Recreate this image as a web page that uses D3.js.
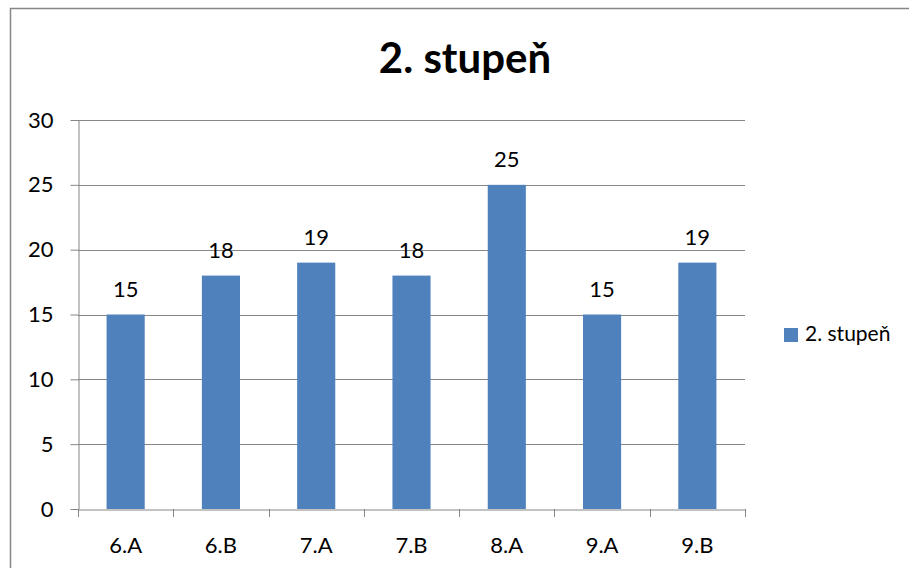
<!DOCTYPE html>
<html><head><meta charset="utf-8">
<script src="https://cdn.jsdelivr.net/npm/d3@7"></script>
<style>body{margin:0;background:#fff;} svg{display:block;font-family:Lato, "Open Sans", sans-serif;}</style>
</head><body>
<svg id="c" width="909" height="568"></svg>
<script>
const title = "2. stupeň";
const seriesName = "2. stupeň";
const categories = ["6.A","6.B","7.A","7.B","8.A","9.A","9.B"];
const values = [15,18,19,18,25,15,19];
const yTicks = [0,5,10,15,20,25,30];

const svg = d3.select("#c");
const pLeft = 78, pRight = 745, pTop = 120, pBottom = 509;
const x = d3.scaleBand().domain(categories).range([pLeft, pRight]).paddingInner(0.6).paddingOuter(0.3);
const xb = d3.scaleBand().domain(categories).range([pLeft, pRight]);
const y = d3.scaleLinear().domain([0, 30]).range([pBottom, pTop]);
const grey = "#868686";

// chart border
svg.append("rect").attr("x", 10.5).attr("y", 8.5).attr("width", 1000).attr("height", 1000)
  .attr("fill", "none").attr("stroke", grey).attr("stroke-width", 1.5);

// title
svg.append("text").attr("x", 465).attr("y", 73).attr("text-anchor", "middle")
  .attr("font-size", 42).attr("font-weight", "bold").attr("fill", "#000").text(title);

// gridlines
svg.append("g").selectAll("line").data(yTicks.filter(d => d > 0)).join("line")
  .attr("x1", pLeft).attr("x2", pRight).attr("y1", d => Math.round(y(d)) + 0.5).attr("y2", d => Math.round(y(d)) + 0.5)
  .attr("stroke", grey).attr("stroke-width", 1);

// y axis
const ya = svg.append("g").attr("transform", `translate(${pLeft + 0.5},0)`)
  .call(d3.axisLeft(y).tickValues(yTicks).tickSize(8).tickPadding(17).tickSizeOuter(0));
ya.select(".domain").attr("stroke", grey);
ya.selectAll(".tick line").attr("stroke", grey);
ya.selectAll(".tick text").attr("font-size", 22).attr("fill", "#000").attr("font-family", "Lato, sans-serif");

// bars
svg.append("g").selectAll("rect").data(values).join("rect")
  .attr("x", (d, i) => x(categories[i])).attr("width", x.bandwidth())
  .attr("y", d => y(d)).attr("height", d => y(0) - y(d))
  .attr("fill", "#4F81BD");

// x axis
const xa = svg.append("g").attr("transform", `translate(0,${pBottom + 0.5})`)
  .call(d3.axisBottom(xb).tickSize(0).tickPadding(28).tickSizeOuter(0));
xa.select(".domain").attr("stroke", grey);
xa.selectAll(".tick text").attr("font-size", 22).attr("fill", "#000").attr("font-family", "Lato, sans-serif");
svg.append("g").selectAll("line").data(d3.range(categories.length + 1)).join("line")
  .attr("x1", i => Math.round(pLeft + i * xb.step()) + 0.5).attr("x2", i => Math.round(pLeft + i * xb.step()) + 0.5)
  .attr("y1", pBottom).attr("y2", pBottom + 8).attr("stroke", grey);

// data labels
svg.append("g").selectAll("text").data(values).join("text")
  .attr("x", (d, i) => x(categories[i]) + x.bandwidth() / 2).attr("y", d => y(d) - 18)
  .attr("text-anchor", "middle").attr("font-size", 22).attr("fill", "#000").text(d => d);

// legend
svg.append("rect").attr("x", 784).attr("y", 328).attr("width", 14).attr("height", 14).attr("fill", "#4F81BD");
svg.append("text").attr("x", 805).attr("y", 341).attr("font-size", 21).attr("fill", "#000").text(seriesName);
</script>
</body></html>
